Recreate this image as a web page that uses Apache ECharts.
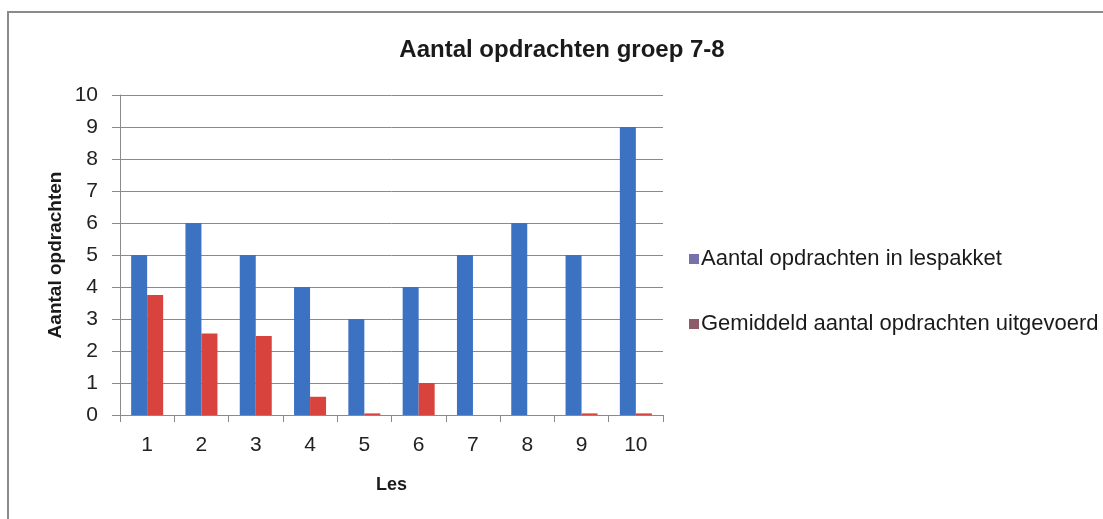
<!DOCTYPE html>
<html>
<head>
<meta charset="utf-8">
<title>Aantal opdrachten groep 7-8</title>
<script src="https://cdn.jsdelivr.net/npm/echarts@6/dist/echarts.min.js"></script>
<style>
  html, body { margin: 0; padding: 0; background: #fff; }
  #chart { width: 1103px; height: 519px; }
</style>
</head>
<body>
<div id="chart"></div>
<script>
// lessons on the x axis
var lessons = ['1', '2', '3', '4', '5', '6', '7', '8', '9', '10'];
// number of assignments in the lesson package
var inPakket = [5, 6, 5, 4, 3, 4, 5, 6, 5, 9];
// average number of assignments done
var uitgevoerd = [3.75, 2.55, 2.47, 0.57, 0.05, 1.0, 0, 0, 0.05, 0.05];
var yTicks = [0, 1, 2, 3, 4, 5, 6, 7, 8, 9, 10];

var font = 'Liberation Sans';
var chart = echarts.init(document.getElementById('chart'));
var option = {
  backgroundColor: '#ffffff',
  animation: false,
  textStyle: { fontFamily: font },
  graphic: [
    {
      type: 'rect',
      shape: { x: 8, y: 12, width: 1200, height: 600 },
      style: { fill: 'none', stroke: '#8a8a8a', lineWidth: 2 },
      silent: true
    }
  ],
  title: {
    text: 'Aantal opdrachten groep 7-8',
    left: 557,
    textAlign: 'center',
    top: 33,
    textStyle: { fontFamily: font, fontSize: 24, fontWeight: 'bold', color: '#1a1a1a' }
  },
  legend: {
    orient: 'vertical',
    left: 684,
    top: 243,
    itemWidth: 10,
    itemHeight: 10,
    itemGap: 43,
    icon: 'rect',
    textStyle: { fontFamily: font, fontSize: 22, color: '#1a1a1a', padding: [0, 0, 0, -3] },
    data: [
      { name: 'Aantal opdrachten in lespakket', itemStyle: { color: '#7671ad' } },
      { name: 'Gemiddeld aantal opdrachten uitgevoerd', itemStyle: { color: '#8c5a69' } }
    ]
  },
  grid: { left: 120, top: 95, width: 543, height: 320 },
  xAxis: {
    type: 'category',
    data: lessons,
    name: 'Les',
    nameLocation: 'middle',
    nameGap: 61,
    nameTextStyle: { fontFamily: font, fontSize: 18, fontWeight: 'bold', color: '#1a1a1a' },
    axisLine: { lineStyle: { color: '#8a8a8a', width: 1 } },
    axisTick: { show: true, length: 7, lineStyle: { color: '#8a8a8a' } },
    axisLabel: { fontFamily: font, fontSize: 21, color: '#222', margin: 20 }
  },
  yAxis: {
    type: 'value',
    min: yTicks[0],
    max: yTicks[yTicks.length - 1],
    interval: 1,
    name: 'Aantal opdrachten',
    nameLocation: 'middle',
    nameGap: 55,
    nameRotate: 90,
    nameTextStyle: { fontFamily: font, fontSize: 19, fontWeight: 'bold', color: '#1a1a1a' },
    axisLine: { show: true, lineStyle: { color: '#8a8a8a', width: 1 } },
    axisTick: { show: true, length: 8, lineStyle: { color: '#8a8a8a' } },
    axisLabel: { fontFamily: font, fontSize: 21, color: '#222', margin: 22 },
    splitLine: { lineStyle: { color: '#8a8a8a', width: 1 } }
  },
  series: [
    {
      name: 'Aantal opdrachten in lespakket',
      type: 'bar',
      data: inPakket,
      barWidth: 16,
      barGap: '0%',
      itemStyle: { color: '#3c72c2' }
    },
    {
      name: 'Gemiddeld aantal opdrachten uitgevoerd',
      type: 'bar',
      data: uitgevoerd,
      barWidth: 16,
      barGap: '0%',
      itemStyle: { color: '#d8433d' }
    }
  ]
};
option && chart.setOption(option);
</script>
</body>
</html>
